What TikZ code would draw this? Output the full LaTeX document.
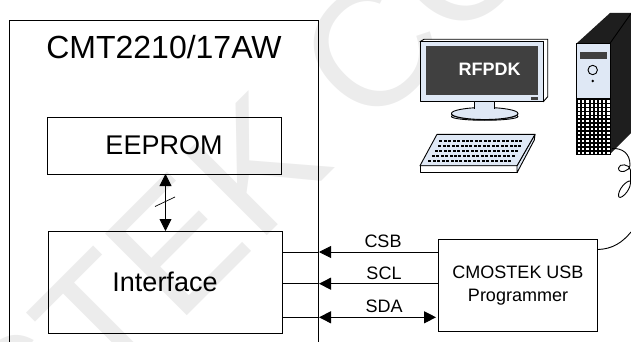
\documentclass[tikz,border=0pt]{standalone}
\usepackage{fontspec}
\setmainfont{Liberation Sans}
\usetikzlibrary{arrows.meta}
\definecolor{panel}{HTML}{DFE8F5}
\definecolor{screen}{HTML}{404040}
\definecolor{tower}{HTML}{1E1E1E}
\definecolor{wmark}{HTML}{ECECEC}
\tikzset{
  block/.style={draw,line width=0.9pt,inner sep=0pt,font=\fontsize{27}{30}\selectfont},
  siglabel/.style={inner sep=0pt,font=\fontsize{18}{20}\selectfont},
  sig/.style={line width=0.9pt},
  head/.style={-{Triangle[length=12pt,width=12pt]}},
  heads/.style={{Triangle[length=12pt,width=12pt]}-{Triangle[length=12pt,width=12pt]}},
  part/.style={draw,line width=0.9pt,fill=panel,line join=round}
}
\begin{document}
\begin{tikzpicture}[x=1pt,y=-1pt]
  \useasboundingbox (0,0) rectangle (631,342);
  % watermark
  \node[anchor=base west,rotate=45,inner sep=0pt,text=wmark,font=\fontsize{168}{168}\selectfont] (mark) at (26,477) {STEK CO};

  % chip
  \draw[sig] (9.5,342) -- (9.5,20) -- (318.5,20) -- (318.5,342);
  \node[inner sep=0pt,font=\fontsize{32}{34}\selectfont] (title) at (164,47) {CMT2210/17AW};
  \node[block,minimum width=234pt,minimum height=57pt] (eeprom) at (164,145.5) {EEPROM};
  \node[block,minimum width=234pt,minimum height=102pt] (iface) at (165,282) {Interface};
  \node[block,minimum width=159pt,minimum height=92pt,font=\fontsize{18}{21}\selectfont,align=center] (prog) at (518,285.5) {CMOSTEK USB\\[2.5pt]Programmer};

  % bus
  \coordinate (busup) at (165.5,174);
  \coordinate (busdn) at (165.5,231);
  \draw[sig,heads] (busup) -- (busdn);
  \coordinate (tickA) at (155,206.5);
  \coordinate (tickB) at (175,197);
  \draw[line width=0.7pt] (tickA) -- (tickB);

  % pins
  \foreach \name/\y in {csb/252,scl/283.7,sda/317.3} {
    \coordinate (\name i) at (iface.east |- 0,\y);
    \coordinate (\name m) at (319,\y);
    \coordinate (\name p) at (prog.west |- 0,\y);
    \draw[sig] (\name i) -- (\name m);
  }
  \draw[sig,head] (csbp) -- (csbm);
  \draw[sig,head] (sclp) -- (sclm);
  \draw[sig,heads] (sdam) -- ([xshift=-2pt]sdap);
  \node[siglabel] (csb) at (383,241) {CSB};
  \node[siglabel] (scl) at (384,273) {SCL};
  \node[siglabel] (sda) at (384,306) {SDA};

  % monitor
  \draw[part,fill=white] (420,41.7) -- (424,39.3) -- (547.7,39.3) -- (547.7,96.7) -- (543.3,101.7) -- (543.3,41.7) -- cycle;
  \draw[part] (420,41.7) rectangle (543.3,101.7);
  \fill[screen] (426,45.7) rectangle (537.7,95);
  \fill[screen] (530.7,97) rectangle (538,100);
  \node[inner sep=0pt,text=white,font=\bfseries\fontsize{18}{20}\selectfont] (rfpdk) at (489.5,69.5) {RFPDK};
  \draw[part] (484.7,116.5) ellipse (33.3pt and 3.8pt);
  \draw[part,fill=white] (451.4,113.7) arc (180:360:33.3pt and 6pt);
  \draw[part] (484.7,113.5) ellipse (33.3pt and 6pt);
  \draw[part] (474.5,101.7) -- (474.5,109.5) (494.5,101.7) -- (494.5,109.5);
  \fill[panel] (475,101.7) rectangle (494,109.2);

  % keyboard
  \draw[part,fill=white] (420,165.7) -- (517,165.7) -- (517,172.7) -- (420,172.7) -- cycle;
  \draw[part,fill=panel] (517,165.7) -- (535,134.3) -- (534.3,140) -- (517,172.7) -- cycle;
  \draw[part] (420,165.7) -- (437,134.3) -- (535,134.3) -- (517,165.7) -- cycle;
  \foreach \y/\s in {140.7/439.3,145.7/438.3,150.7/435,156/431.7,161/428.3} {
    \foreach \k in {0,...,18} {
      \fill[black] (\s+\k*4.45,\y-1.2) rectangle ++(3,2.4);
    }
  }

  % tower
  \fill[tower] (576.7,43.3) -- (610,13) -- (631,13) -- (631,133) -- (610,154) -- cycle;
  \draw[line width=0.9pt,black] (610,43.3) -- (631,13.5);
  \draw[part] (576.7,43.3) rectangle (610,98.3);
  \fill[screen] (579.5,52.5) rectangle (606.5,59.5);
  \draw[line width=0.9pt,black] (592.7,70) circle (4.7pt);
  \fill[black] (592.7,81) circle (1.3pt);
  \fill[black] (576.2,98.3) rectangle (610.5,154.5);
  \foreach \i in {0,...,7} {
    \foreach \j in {0,...,13} {
      \fill[white] (578+\i*4.2,100.5+\j*3.95) rectangle ++(2.2,2.2);
    }
  }

  % cable
  \coordinate (cableA) at (612,148.5);
  \coordinate (cableB) at (631,232);
  \draw[line width=0.9pt] (cableA) .. controls (622,148) and (630,153) .. (630,165)
    .. controls (630,172) and (618,174) .. (618.5,168)
    .. controls (619,163) and (630,164) .. (630.5,170)
    -- (630.5,183) .. controls (630,192) and (619,201) .. (618.5,196)
    .. controls (618,190) and (626,180) .. (631,181);
  \draw[line width=0.9pt] (cableB) .. controls (622,243) and (612,249) .. (prog.east |- 0,249.5);
\end{tikzpicture}
\end{document}
